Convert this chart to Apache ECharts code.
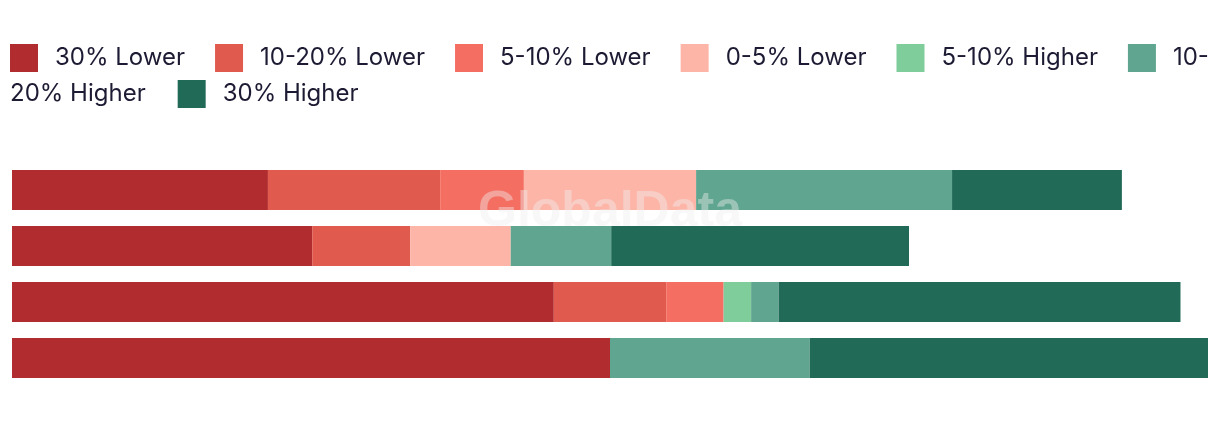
<!DOCTYPE html>
<html>
<head>
<meta charset="utf-8">
<script src="https://cdn.jsdelivr.net/npm/echarts@6/dist/echarts.min.js"></script>
<style>
html,body{margin:0;padding:0;background:#fff;}
#chart{width:1220px;height:422px;}
</style>
</head>
<body>
<div id="chart"></div>
<script>
const categories = ['Row 1', 'Row 2', 'Row 3', 'Row 4'];
const seriesNames = ['30% Lower', '10-20% Lower', '5-10% Lower', '0-5% Lower', '5-10% Higher', '10-20% Higher', '30% Higher'];
const lower30 = [21.4, 25.1, 45.3, 50.0];
const lower10_20 = [14.4, 8.2, 9.4, 0];
const lower5_10 = [7.0, 0, 4.8, 0];
const lower0_5 = [14.4, 8.4, 0, 0];
const higher5_10 = [0, 0, 2.3, 0];
const higher10_20 = [21.4, 8.4, 2.3, 16.7];
const higher30 = [14.2, 24.9, 33.6, 33.3];
const colors = ['#b02c2f', '#e05a4e', '#f46e62', '#fdb5a7', '#7ecd9b', '#5fa58f', '#216a57'];

const values = [lower30, lower10_20, lower5_10, lower0_5, higher5_10, higher10_20, higher30];

const chart = echarts.init(document.getElementById('chart'), null, {renderer: 'canvas'});
const legendText = {fontFamily: 'Inter', fontSize: 24, color: '#1c1b33', padding: [0, 0, 0, 12]};
chart.setOption({
  animation: false,
  color: colors,
  grid: {left: 12, right: 12, top: 162, height: 224, containLabel: false},
  xAxis: {type: 'value', min: 0, max: 100, show: false},
  yAxis: {type: 'category', data: categories, inverse: true, show: false},
  legend: [
    {
      left: 10, top: 44, padding: 0, itemWidth: 28, itemHeight: 28, itemGap: 30,
      icon: 'rect', orient: 'horizontal', width: 1300,
      data: seriesNames.slice(0, 6),
      formatter: function (n) { return n === '10-20% Higher' ? '10-' : n; },
      textStyle: legendText
    },
    {
      left: -35, top: 80, padding: 0, itemWidth: 28, itemHeight: 28, itemGap: 32,
      icon: 'rect', width: 1300,
      data: [{name: '10-20% Higher', icon: 'none'}, {name: '30% Higher'}],
      formatter: function (n) { return n === '10-20% Higher' ? '20% Higher' : n; },
      textStyle: legendText
    }
  ],
  graphic: [{
    type: 'text', left: 'center', top: 187, z: 100, silent: true,
    style: {text: 'GlobalData', font: 'bold 50px "Liberation Sans", Arial, sans-serif', fill: 'rgba(238,238,238,0.42)'}
  }],
  series: seriesNames.map(function (name, i) {
    return {
      name: name, type: 'bar', stack: 'total', data: values[i],
      barCategoryGap: '28.6%', itemStyle: {color: colors[i]},
      emphasis: {disabled: true}
    };
  })
});
</script>
</body>
</html>
